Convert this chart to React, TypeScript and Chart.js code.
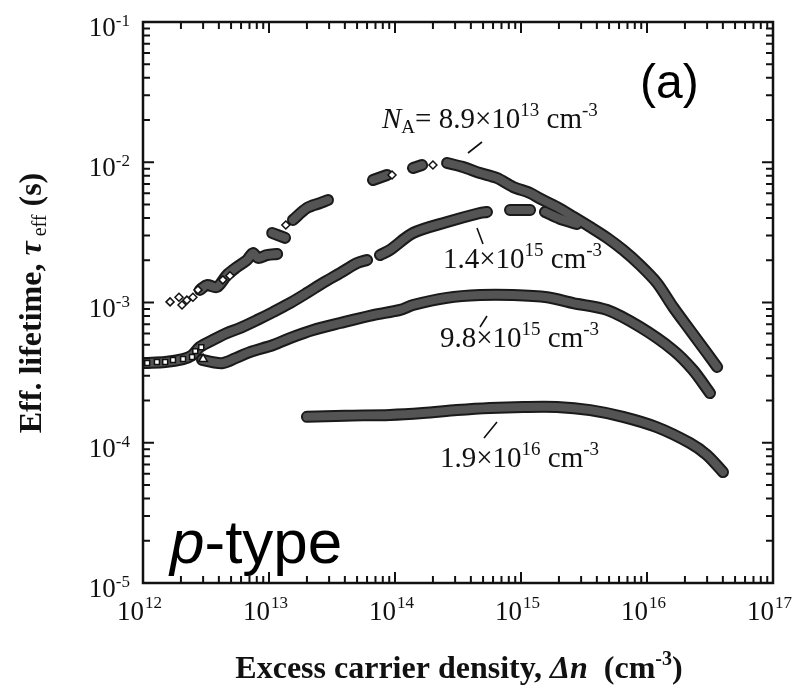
import React, { useEffect, useRef } from 'react';
import { Chart, registerables } from 'chart.js';

Chart.register(...registerables);

const X_MIN = 1e12;
const X_MAX = 1e17;
const Y_MIN = 1e-5;
const Y_MAX = 1e-1;

const xTickExponents = [12, 13, 14, 15, 16, 17];
const yTickExponents = [-5, -4, -3, -2, -1];

// N_A = 8.9e13 cm^-3
const s1BandX = [2.83e12, 3.22e12, 3.87e12, 4.64e12, 5.57e12, 6.69e12, 7.46e12, 8.18e12, 9.64e12, 1.16e13, null,
  1.06e13, 1.34e13, null,
  1.55e13, 2.0e13, 2.54e13, 2.94e13, null,
  6.69e13, 8.65e13, null,
  1.39e14, 1.64e14, null,
  2.59e14, 3.47e14, 4.73e14, 6.45e14, 8.65e14, 1.18e15, 1.42e15, 1.93e15, 2.59e15, 3.53e15, 4.82e15, 6.45e15, 8.8e15, 1.2e16, 1.61e16, 2.19e16, 2.99e16, 3.6e16];
const s1BandY = [1.23e-3, 1.33e-3, 1.29e-3, 1.57e-3, 1.79e-3, 2.01e-3, 2.25e-3, 2.08e-3, 2.18e-3, 2.22e-3, null,
  3.13e-3, 2.89e-3, null,
  3.88e-3, 4.72e-3, 5.12e-3, 5.38e-3, null,
  7.47e-3, 8.11e-3, null,
  9.1e-3, 9.55e-3, null,
  9.88e-3, 9.24e-3, 8.38e-3, 7.72e-3, 6.67e-3, 6.04e-3, 5.5e-3, 4.8e-3, 4.1e-3, 3.46e-3, 2.89e-3, 2.37e-3, 1.85e-3, 1.38e-3, 9.29e-4, 6.37e-4, 4.36e-4, 3.47e-4];
const s1DiamondX = [1.64e12, 1.93e12, 2.04e12, 2.23e12, 2.49e12, 2.73e12, 4.3e12, 4.9e12, 1.36e13, 9.47e13, 2.0e14];
const s1DiamondY = [1.01e-3, 1.09e-3, 9.6e-4, 1.04e-3, 1.09e-3, 1.23e-3, 1.45e-3, 1.55e-3, 3.57e-3, 8.11e-3, 9.55e-3];

// N_A = 1.4e15 cm^-3
const s2BandX = [1.05e12, 1.5e12, 2.08e12, 2.45e12, 2.83e12, 3.59e12, 4.64e12, 5.89e12, 8.04e12, 1.08e13, 1.47e13, 2.0e13, 2.68e13, 3.66e13, 4.99e13, 6.0e13, null,
  7.6e13, 9.12e13, 1.39e14, 2.59e14, 4.73e14, 5.37e14, null,
  8.18e14, 1.18e15, null,
  1.55e15, 2.04e15, 2.78e15];
const s2BandY = [3.7e-4, 3.76e-4, 3.95e-4, 4.2e-4, 4.82e-4, 5.41e-4, 6.06e-4, 6.58e-4, 7.5e-4, 8.56e-4, 9.91e-4, 1.17e-3, 1.38e-3, 1.62e-3, 1.91e-3, 2.01e-3, null,
  2.18e-3, 2.37e-3, 3.13e-3, 3.75e-3, 4.35e-3, 4.42e-3, null,
  4.57e-3, 4.57e-3, null,
  4.42e-3, 3.95e-3, 3.63e-3];
const s2SquareX = [1.08e12, 1.29e12, 1.5e12, 1.73e12, 2.08e12, 2.45e12, 2.6e12, 2.9e12];
const s2SquareY = [3.7e-4, 3.76e-4, 3.76e-4, 3.89e-4, 3.95e-4, 4.09e-4, 4.5e-4, 4.8e-4];

// N_A = 9.8e15 cm^-3
const s3BandX = [2.94e12, 3.6e12, 4.3e12, 5.4e12, 7.06e12, 1.08e13, 1.47e13, 2.24e13, 3.66e13, 6.69e13, 1.1e14, 1.39e14, 2.59e14, 4.73e14, 8.65e14, 1.61e15, 2.59e15, 4.82e15, 8.8e15, 1.61e16, 2.32e16, 3.16e16];
const s3BandY = [3.9e-4, 3.75e-4, 3.7e-4, 4.0e-4, 4.43e-4, 4.98e-4, 5.58e-4, 6.37e-4, 7.14e-4, 8.14e-4, 8.85e-4, 9.6e-4, 1.08e-3, 1.13e-3, 1.13e-3, 1.09e-3, 9.91e-4, 8.85e-4, 6.69e-4, 4.58e-4, 3.3e-4, 2.26e-4];
const s3TriangleX = [3.0e12];
const s3TriangleY = [3.95e-4];

// N_A = 1.9e16 cm^-3
const s4BandX = [2.0e13, 4.0e13, 9.12e13, 1.67e14, 3.1e14, 5.68e14, 1.04e15, 1.93e15, 3.53e15, 6.45e15, 1.2e16, 2.19e16, 2.99e16, 4.01e16];
const s4BandY = [1.53e-4, 1.56e-4, 1.58e-4, 1.63e-4, 1.71e-4, 1.77e-4, 1.8e-4, 1.8e-4, 1.71e-4, 1.53e-4, 1.29e-4, 9.95e-5, 8.18e-5, 6.18e-5];

const seriesMantissa = ['8.9', '1.4', '9.8', '1.9'];
const seriesExponent = ['13', '15', '15', '16'];

const SERIF = '"Liberation Serif", "Times New Roman", serif';
const SANS = '"Liberation Sans", Arial, sans-serif';

type Part = { t: string; font: string; dy?: number };

function toPts(xs: (number | null)[], ys: (number | null)[]) {
  return xs.map((x, i) => ({ x, y: ys[i] }));
}

function drawParts(ctx: CanvasRenderingContext2D, parts: Part[], x: number, y: number, align: 'left' | 'center' | 'right') {
  const widths = parts.map((p) => {
    ctx.font = p.font;
    return ctx.measureText(p.t).width;
  });
  const total = widths.reduce((a, b) => a + b, 0);
  let cx = align === 'left' ? x : align === 'center' ? x - total / 2 : x - total;
  ctx.textAlign = 'left';
  ctx.textBaseline = 'alphabetic';
  parts.forEach((p, i) => {
    ctx.font = p.font;
    ctx.fillText(p.t, cx, y + (p.dy || 0));
    cx += widths[i];
  });
}

const decorPlugin = {
  id: 'decor',
  afterDraw(chart: any) {
    const ctx: CanvasRenderingContext2D = chart.ctx;
    const { left, right, top, bottom } = chart.chartArea;
    const xs = chart.scales.x;
    const ys = chart.scales.y;
    ctx.save();
    ctx.strokeStyle = '#111';
    ctx.fillStyle = '#111';
    // frame
    ctx.lineWidth = 2.5;
    ctx.strokeRect(left, top, right - left, bottom - top);
    // ticks
    ctx.lineWidth = 2;
    ctx.beginPath();
    for (let d = 12; d <= 16; d++) {
      for (let m = 1; m <= 9; m++) {
        const v = m * Math.pow(10, d);
        const px = xs.getPixelForValue(v);
        const len = m === 1 ? 11 : 7;
        ctx.moveTo(px, bottom);
        ctx.lineTo(px, bottom - len);
        ctx.moveTo(px, top);
        ctx.lineTo(px, top + len);
      }
    }
    for (let d = -5; d <= -2; d++) {
      for (let m = 1; m <= 9; m++) {
        const v = m * Math.pow(10, d);
        const py = ys.getPixelForValue(v);
        const len = m === 1 ? 11 : 7;
        ctx.moveTo(left, py);
        ctx.lineTo(left + len, py);
        ctx.moveTo(right, py);
        ctx.lineTo(right - len, py);
      }
    }
    ctx.stroke();

    // tick labels
    const big = `27px ${SERIF}`;
    const small = `17px ${SERIF}`;
    xTickExponents.forEach((e) => {
      const px = xs.getPixelForValue(Math.pow(10, e));
      ctx.font = big;
      ctx.textAlign = 'right';
      ctx.textBaseline = 'alphabetic';
      ctx.fillText('10', px + 1, 620);
      ctx.font = small;
      ctx.textAlign = 'left';
      ctx.fillText(String(e), px + 2, 608);
    });
    yTickExponents.forEach((e) => {
      const py = ys.getPixelForValue(Math.pow(10, e));
      ctx.font = small;
      const ew = ctx.measureText(String(e)).width;
      ctx.textAlign = 'right';
      ctx.textBaseline = 'alphabetic';
      ctx.fillText(String(e), 130, py + 4);
      ctx.font = big;
      ctx.fillText('10', 130 - ew, py + 14);
    });

    // axis titles
    const tb = `bold 32px ${SERIF}`;
    const tbi = `italic bold 32px ${SERIF}`;
    const tbs = `bold 20px ${SERIF}`;
    drawParts(ctx, [
      { t: 'Excess carrier density, ', font: tb },
      { t: 'Δ', font: tbi },
      { t: 'n', font: tbi },
      { t: '  (cm', font: tb },
      { t: '-3', font: tbs, dy: -13 },
      { t: ')', font: tb },
    ], 459, 678, 'center');

    ctx.save();
    ctx.translate(41, 303);
    ctx.rotate(-Math.PI / 2);
    drawParts(ctx, [
      { t: 'Eff. lifetime, ', font: tb },
      { t: 'τ', font: tbi },
      { t: ' eff', font: `20px ${SERIF}`, dy: 5 },
      { t: ' (s)', font: tb },
    ], 0, 0, 'center');
    ctx.restore();

    // series annotations
    const af = `29px ${SERIF}`;
    const ai = `italic 29px ${SERIF}`;
    const as = `19px ${SERIF}`;
    drawParts(ctx, [
      { t: 'N', font: ai },
      { t: 'A', font: as, dy: 5 },
      { t: '= ' + seriesMantissa[0] + '×10', font: af },
      { t: seriesExponent[0], font: as, dy: -12 },
      { t: ' cm', font: af },
      { t: '-3', font: as, dy: -12 },
    ], 382, 128, 'left');
    const anchors = [[443, 268], [440, 347], [440, 467]];
    for (let i = 1; i < 4; i++) {
      drawParts(ctx, [
        { t: seriesMantissa[i] + '×10', font: af },
        { t: seriesExponent[i], font: as, dy: -12 },
        { t: ' cm', font: af },
        { t: '-3', font: as, dy: -12 },
      ], anchors[i - 1][0], anchors[i - 1][1], 'left');
    }
    // pointer lines
    ctx.lineWidth = 1.6;
    ctx.beginPath();
    ctx.moveTo(468, 153); ctx.lineTo(482, 142);
    ctx.moveTo(477, 228); ctx.lineTo(483, 244);
    ctx.moveTo(480, 327); ctx.lineTo(487, 316);
    ctx.moveTo(484, 438); ctx.lineTo(497, 422);
    ctx.stroke();

    // panel labels
    ctx.fillStyle = '#000';
    drawParts(ctx, [{ t: '(a)', font: `48px ${SANS}` }], 640, 98, 'left');
    drawParts(ctx, [
      { t: 'p', font: `italic 62px ${SANS}` },
      { t: '-type', font: `62px ${SANS}` },
    ], 170, 563, 'left');
    ctx.restore();
  },
};

function band(xs: (number | null)[], ys: (number | null)[], outline: boolean) {
  return {
    data: toPts(xs, ys),
    borderColor: outline ? '#1a1a1a' : '#545454',
    borderWidth: outline ? 12 : 8,
    pointRadius: 0,
    tension: 0.3,
    borderCapStyle: 'round',
    borderJoinStyle: 'round',
    spanGaps: false,
    fill: false,
    order: outline ? 3 : 2,
  };
}

function markers(xs: number[], ys: number[], style: string, r: number) {
  return {
    data: toPts(xs, ys),
    showLine: false,
    pointStyle: style,
    pointRadius: r,
    pointBackgroundColor: '#ffffff',
    pointBorderColor: '#111111',
    pointBorderWidth: 1.5,
    order: 1,
  };
}

export default function App() {
  const ref = useRef<HTMLCanvasElement | null>(null);
  useEffect(() => {
    if (!ref.current) return;
    const chart = new Chart(ref.current, {
      type: 'line',
      data: {
        datasets: [
          band(s1BandX, s1BandY, true),
          band(s2BandX, s2BandY, true),
          band(s3BandX, s3BandY, true),
          band(s4BandX, s4BandY, true),
          band(s1BandX, s1BandY, false),
          band(s2BandX, s2BandY, false),
          band(s3BandX, s3BandY, false),
          band(s4BandX, s4BandY, false),
          markers(s1DiamondX, s1DiamondY, 'rectRot', 4),
          markers(s2SquareX, s2SquareY, 'rect', 3.5),
          markers(s3TriangleX, s3TriangleY, 'triangle', 5),
        ] as any,
      },
      options: {
        animation: false,
        responsive: false,
        devicePixelRatio: 1,
        events: [],
        layout: { padding: { left: 143, top: 22, right: 23, bottom: 103 } },
        plugins: { legend: { display: false }, tooltip: { enabled: false } },
        scales: {
          x: { type: 'logarithmic', min: X_MIN, max: X_MAX, display: false },
          y: { type: 'logarithmic', min: Y_MIN, max: Y_MAX, display: false },
        },
      } as any,
      plugins: [decorPlugin],
    });
    return () => chart.destroy();
  }, []);
  return (
    <div style={{ position: 'absolute', left: 0, top: 0, width: 796, height: 686, background: '#fff' }}>
      <canvas ref={ref} width={796} height={686} style={{ display: 'block' }} />
    </div>
  );
}
